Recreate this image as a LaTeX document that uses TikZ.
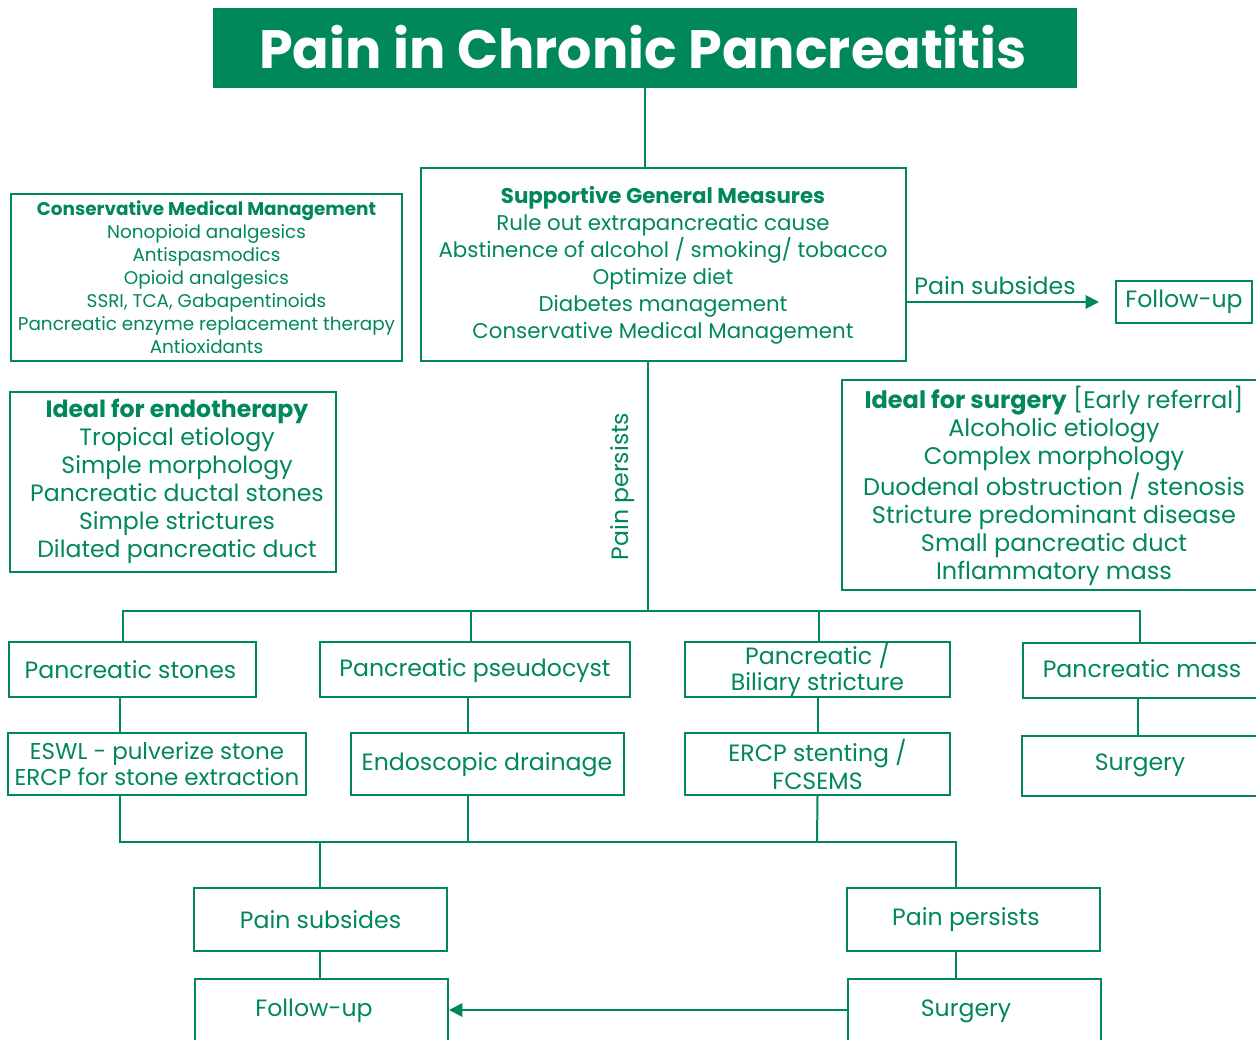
\documentclass[tikz,border=0pt]{standalone}
\usepackage{fontspec}
\setmainfont{Poppins}
\usetikzlibrary{arrows.meta}
\definecolor{pg}{RGB}{0,135,90}
\newcommand\fs[2]{\fontsize{#1}{#2}\selectfont}
\begin{document}
\begin{tikzpicture}[x=0.75pt,y=-0.75pt,
  box/.style={draw=pg, line width=1.5pt, text=pg, align=center, inner sep=0pt, rectangle},
  conn/.style={draw=pg, line width=1.5pt},
  arr/.style={conn, -{Triangle[length=10pt,width=10pt]}},
  lbl/.style={text=pg, inner sep=0pt, align=center},
  big/.style={font=\fs{17.7}{19.5}}]
\useasboundingbox (0,0) rectangle (1256,1039);
\clip (0,0) rectangle (1256,1039);
\newcommand\bx[7][]{\node[box, #1, minimum width={(#5-#3)*0.75pt}, minimum height={(#6-#4)*0.75pt}] (#2) at ({(#3+#5)/2},{(#4+#6)/2}) {#7};}
% title
\bx[fill=pg]{title}{214}{9}{1076}{87}{}
\node[lbl, text=white, font=\fs{40.5}{48}\bfseries] (titletxt) at (643,47) {Pain in Chronic Pancreatitis};
% supportive
\bx{sup}{421}{168}{906}{361}{}
\node[lbl, font=\fs{16}{20.25}] (suptxt) at (663,265.5) {\textbf{Supportive General Measures}\\Rule out extrapancreatic cause\\Abstinence of alcohol / smoking/ tobacco\\Optimize diet\\Diabetes management\\Conservative Medical Management};
% conservative
\bx[font=\fs{13.8}{17.25}]{cons}{11}{194}{402}{361}{\textbf{Conservative Medical Management}\\Nonopioid analgesics\\Antispasmodics\\Opioid analgesics\\SSRI, TCA, Gabapentinoids\\Pancreatic enzyme replacement therapy\\Antioxidants}
% follow-up top
\bx[big]{fu1}{1116}{281}{1252}{323}{Follow-up}
% endotherapy
\bx{endo}{10}{392}{336}{572}{}
\node[lbl, font=\fs{17.7}{21}] (endotxt) at (177,481) {\textbf{Ideal for endotherapy}\\Tropical etiology\\Simple morphology\\Pancreatic ductal stones\\Simple strictures\\Dilated pancreatic duct};
% surgery ideal
\node[box, minimum width={419*0.75pt}, minimum height={210*0.75pt}, anchor=north west] (surg) at (841,379) {};
\node[lbl, font=\fs{18}{21}] (surgtxt) at (1054,486) {\textbf{Ideal for surgery} [Early referral]\\Alcoholic etiology\\Complex morphology\\Duodenal obstruction / stenosis\\Stricture predominant disease\\Small pancreatic duct\\Inflammatory mass};
% row 1
\bx{stones}{9}{642}{256}{697}{}
\node[lbl, big] (stonestxt) at (130.5,669.5) {Pancreatic stones};
\bx{pseudo}{320}{642}{630}{697}{}
\node[lbl, big] (pseudotxt) at (475,671) {Pancreatic pseudocyst};
\bx[big]{strict}{685}{642}{950}{697}{Pancreatic /\\Biliary stricture}
\node[box, minimum width={238*0.75pt}, minimum height={55*0.75pt}, anchor=north west] (mass) at (1022,642) {};
\node[lbl, big] (masstxt) at (1142,669) {Pancreatic mass};
% row 2
\bx[font=\fs{17.2}{19.5}]{eswl}{8}{733}{306}{795}{ESWL - pulverize stone\\ERCP for stone extraction}
\bx{drain}{351}{733}{624}{795}{}
\node[lbl, big] (draintxt) at (487,765) {Endoscopic drainage};
\bx[font=\fs{17.7}{21}]{ercp}{685}{733}{950}{795}{ERCP stenting /\\FCSEMS}
\node[box, minimum width={239*0.75pt}, minimum height={60*0.75pt}, anchor=north west] (surg2) at (1021,735) {};
\node[lbl, big] (surg2txt) at (1140,765) {Surgery};
% bottom
\bx[big]{subs}{194}{888}{447}{951}{Pain subsides}
\bx{pers}{847}{888}{1100}{951}{}
\node[lbl, big] (perstxt) at (966,920) {Pain persists};
\node[box, minimum width={253*0.75pt}, minimum height={70*0.75pt}, anchor=north west] (fu2) at (194,978) {};
\node[lbl, big] (fu2txt) at (314,1011) {Follow-up};
\node[box, minimum width={253*0.75pt}, minimum height={70*0.75pt}, anchor=north west] (surg3) at (847,978) {};
\node[lbl, big] (surg3txt) at (966,1011) {Surgery};
% connectors
\coordinate (t0) at (645,0);
\draw[conn] (title.south -| t0) -- (sup.north -| t0);
\draw[arr, shorten >=12pt] (sup.east |- fu1.west) -- (fu1.west);
\node[lbl, big] (pslbl) at (995,286) {Pain subsides};
\coordinate (j1) at (648,611);
\draw[conn] (sup.south -| j1) -- node[lbl, rotate=90, anchor=south, yshift=9pt, big] {Pain persists} (j1);
\draw[conn] (stones.north -| 123,0) |- (j1) -| (mass.north -| 1140,0);
\draw[conn] (pseudo.north -| 471,0) -- (471,611);
\draw[conn] (strict.north -| 819,0) -- (819,611);
\draw[conn] (stones.south -| 120,0) -- (eswl.north -| 120,0);
\draw[conn] (pseudo.south -| 468,0) -- (drain.north -| 468,0);
\draw[conn] (strict.south) -- (ercp.north);
\draw[conn] (mass.south -| 1138,0) -- (surg2.north -| 1138,0);
\coordinate (j2) at (468,842);
\draw[conn] (eswl.south -| 120,0) |- (j2) -| (pers.north -| 956,0);
\draw[conn] (drain.south -| 468,0) -- (j2);
\draw[conn] (ercp.south) -- (817,842);
\draw[conn] (subs.north -| 320,0) -- (320,842);
\draw[conn] (subs.south -| 320,0) -- (fu2.north -| 320,0);
\draw[conn] (pers.south -| 956,0) -- (surg3.north -| 956,0);
\draw[arr] (surg3.west |- 0,1010) -- (fu2.east |- 0,1010);
\end{tikzpicture}
\end{document}
